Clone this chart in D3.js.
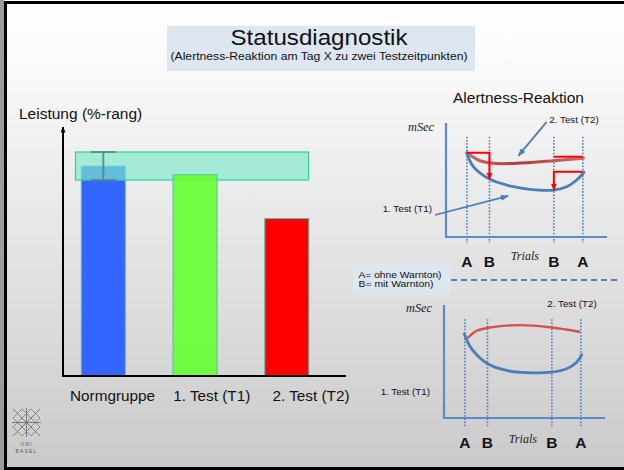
<!DOCTYPE html>
<html>
<head>
<meta charset="utf-8">
<script src="https://cdn.jsdelivr.net/npm/d3@7"></script>
<style>
  html, body { margin: 0; padding: 0; background: #fff; }
  svg { display: block; }
</style>
</head>
<body>
<svg id="slide" width="624" height="470"></svg>
<script>
// ---- Leistung (Prozentrang) je Gruppe ----
const categories = ["Normgruppe", "1. Test (T1)", "2. Test (T2)"];
const leistung = [84, 80.5, 63];
const normStreuung = 5.6;            // ± Bereich der Normgruppe

// ---- Alertness-Reaktion: Messzeitpunkte auf der Trial-Achse ----
const trialMarks = [13, 27, 67, 85];
const trialLabels = ["A", "B", "B", "A"];
const legendLines = ["A= ohne Warnton)", "B= mit Warnton)"];

// oberes Diagramm: [Trial, mSec]
const t1Top = [[12.9, 73.9], [17, 61.7], [27.3, 50.6], [41.8, 44.1], [52.2, 41.8],
               [66.6, 41.2], [75, 44.1], [81.2, 50], [85.7, 56.8]];
const t2Top = [[12.9, 73.9], [21.1, 66.9], [29.4, 64.6], [43.9, 64.6], [66.6, 66.9], [85.3, 69]];
// Warnton-Effekt (Abfall von A nach B)
const warnEffectTop = [
  { from: 13, to: 27, level: 73.9, drop: 50.6 },
  { from: 85, to: 67, level: 70.4, drop: null },
  { from: 85, to: 67, level: 57.3, drop: 41.2 }
];

// unteres Diagramm: [Trial, mSec]
const t1Bottom = [[12.6, 74.3], [17.2, 61.1], [27.1, 48], [38.9, 42.1], [51.4, 40.1],
                  [66.9, 40.6], [76.2, 43.6], [82.4, 49.4], [85.5, 55.9]];
const t2Bottom = [[15.1, 71.3], [20.3, 77.2], [28.6, 80.1], [47.2, 82.2], [66.9, 80.1], [84, 76.3]];

// ---- Styles ----
const SANS = "'Liberation Sans', Arial, Helvetica, sans-serif";
const SERIF = "'Liberation Serif', 'Times New Roman', serif";
const barFill = ["#3366ff", "#66ff33", "#ff0000"];
const lineBlue = "#4a7ebb";

const svg = d3.select("#slide");
const defs = svg.append("defs");

// Hintergrund mit leichtem Verlauf
const bg = defs.append("linearGradient").attr("id", "bg")
  .attr("x1", 0).attr("y1", 0).attr("x2", 0).attr("y2", 1);
bg.append("stop").attr("offset", "0%").attr("stop-color", "#ffffff");
bg.append("stop").attr("offset", "10%").attr("stop-color", "#fcfcfc");
bg.append("stop").attr("offset", "100%").attr("stop-color", "#cacaca");
svg.append("rect").attr("width", 624).attr("height", 470).attr("fill", "url(#bg)");

// Verlauf der roten T2-Kurve
const redGrad = defs.append("linearGradient").attr("id", "redLine")
  .attr("x1", 0).attr("y1", 0).attr("x2", 1).attr("y2", 0);
redGrad.append("stop").attr("offset", "0%").attr("stop-color", "#cf6664");
redGrad.append("stop").attr("offset", "45%").attr("stop-color", "#b03c3a");
redGrad.append("stop").attr("offset", "100%").attr("stop-color", "#d26a68");

// Pfeilspitzen
function marker(id, color, w, h) {
  defs.append("marker").attr("id", id)
    .attr("viewBox", `0 0 ${w} ${h}`)
    .attr("markerUnits", "userSpaceOnUse")
    .attr("markerWidth", w).attr("markerHeight", h)
    .attr("refX", w - 0.5).attr("refY", h / 2)
    .attr("orient", "auto")
    .append("path").attr("d", `M0,0 L${w},${h / 2} L0,${h} Z`).attr("fill", color);
}
marker("arrRed", "#ff0000", 7, 6);
marker("arrBlue", lineBlue, 8, 6);
marker("arrBlack", "#000", 6, 5);

// Rahmen
svg.append("rect").attr("x", 0).attr("y", 0).attr("width", 4).attr("height", 470).attr("fill", "#9c9c9c");
svg.append("path").attr("d", "M5.5,470 V2.5 H624")
  .attr("fill", "none").attr("stroke", "#000").attr("stroke-width", 3);
svg.append("line").attr("x1", 4).attr("x2", 624).attr("y1", 468.5).attr("y2", 468.5)
  .attr("stroke", "#000").attr("stroke-width", 3);

// ---- Titel ----
svg.append("rect").attr("x", 167).attr("y", 26).attr("width", 308).attr("height", 45).attr("fill", "#dde6f1");
svg.append("text").attr("x", 319).attr("y", 44.5).attr("text-anchor", "middle")
  .attr("font-family", SANS).attr("font-size", 21.5).attr("fill", "#111")
  .attr("textLength", 177).attr("lengthAdjust", "spacingAndGlyphs")
  .text("Statusdiagnostik");
svg.append("text").attr("x", 319).attr("y", 59.5).attr("text-anchor", "middle")
  .attr("font-family", SANS).attr("font-size", 11).attr("fill", "#111")
  .attr("textLength", 297).attr("lengthAdjust", "spacingAndGlyphs")
  .text("(Alertness-Reaktion am Tag X zu zwei Testzeitpunkten)");

// ---- Balkendiagramm ----
const yL = d3.scaleLinear().domain([0, 100]).range([376, 126]);
const xBar = d3.scalePoint().domain(categories).range([103.3, 286.8]);
const xLab = d3.scalePoint().domain(categories).range([112.5, 311]);
const barW = 44;

const left = svg.append("g");
function bar(i, opacity) {
  left.append("rect")
    .attr("x", xBar(categories[i]) - barW / 2)
    .attr("y", yL(leistung[i]))
    .attr("width", barW)
    .attr("height", yL(0) - yL(leistung[i]))
    .attr("fill", barFill[i]).attr("fill-opacity", opacity)
    .attr("stroke", "#3cc9a6").attr("stroke-width", 1);
}
bar(0, 1);
// Normbereich (halbtransparentes Band)
left.append("rect")
  .attr("x", 75.5).attr("width", 233)
  .attr("y", yL(leistung[0] + normStreuung))
  .attr("height", yL(leistung[0] - normStreuung) - yL(leistung[0] + normStreuung))
  .attr("fill", "#7ee9cb").attr("fill-opacity", 0.66)
  .attr("stroke", "#2fd0a0").attr("stroke-width", 1.2);
// Streuung der Normgruppe
const ex = xBar(categories[0]);
const eb = left.append("g").attr("stroke", "#4f8a7c").attr("stroke-width", 2).attr("stroke-opacity", 0.85);
eb.append("line").attr("x1", ex).attr("x2", ex)
  .attr("y1", yL(leistung[0] + normStreuung)).attr("y2", yL(leistung[0] - normStreuung));
[leistung[0] + normStreuung, leistung[0] - normStreuung].forEach(v => {
  eb.append("line").attr("x1", ex - 12.5).attr("x2", ex + 12.5).attr("y1", yL(v)).attr("y2", yL(v));
});
bar(1, 0.9);
bar(2, 1);

// Achsen
left.append("line").attr("x1", 63).attr("x2", 63).attr("y1", yL(0) + 1).attr("y2", yL(100) + 1)
  .attr("stroke", "#000").attr("stroke-width", 2).attr("marker-end", "url(#arrBlack)");
left.append("line").attr("x1", 62).attr("x2", 346).attr("y1", yL(0)).attr("y2", yL(0))
  .attr("stroke", "#000").attr("stroke-width", 2);
left.append("text").attr("x", 19).attr("y", 118.5)
  .attr("font-family", SANS).attr("font-size", 15.5).attr("fill", "#111").text("Leistung (%-rang)");
left.selectAll("text.cat").data(categories).join("text").attr("class", "cat")
  .attr("x", d => xLab(d)).attr("y", 401).attr("text-anchor", "middle")
  .attr("font-family", SANS).attr("font-size", 15.3).attr("fill", "#111").text(d => d);

// ---- Alertness-Reaktion ----
svg.append("text").attr("x", 518.5).attr("y", 103.3).attr("text-anchor", "middle")
  .attr("font-family", SANS).attr("font-size", 15.5).attr("fill", "#111").text("Alertness-Reaktion");

function panel(spec, t1, t2, warn, arrows, redStroke, redWidth) {
  const g = svg.append("g");
  const x = d3.scaleLinear().domain([0, 100]).range([spec.left, spec.right]);
  const y = d3.scaleLinear().domain([0, 100]).range([spec.bottom, spec.top]);

  // gepunktete Markierungen A / B
  g.selectAll("line.mark").data(trialMarks).join("line").attr("class", "mark")
    .attr("x1", d => x(d)).attr("x2", d => x(d))
    .attr("y1", y(spec.markTop)).attr("y2", spec.bottom + spec.markBelow)
    .attr("stroke", "#4f81bd").attr("stroke-width", 1.6).attr("stroke-dasharray", "1.6,1.6");

  // Achsen
  g.append("line").attr("x1", x(0)).attr("x2", x(0)).attr("y1", spec.bottom + 1).attr("y2", y(100))
    .attr("stroke", "#5b8cc8").attr("stroke-width", 2.2);
  g.append("line").attr("x1", x(0)).attr("x2", x(100)).attr("y1", spec.bottom).attr("y2", spec.bottom)
    .attr("stroke", "#5b8cc8").attr("stroke-width", 2.2);

  // Kurven
  const line = d3.line().x(d => x(d[0])).y(d => y(d[1])).curve(d3.curveCatmullRom.alpha(0.5));
  g.append("path").attr("d", line(t2)).attr("fill", "none")
    .attr("stroke", redStroke).attr("stroke-width", redWidth).attr("stroke-linecap", "round");
  g.append("path").attr("d", line(t1)).attr("fill", "none")
    .attr("stroke", lineBlue).attr("stroke-width", 2.8).attr("stroke-linecap", "round");

  // Warnton-Effekt
  warn.forEach(w => {
    let d = `M${x(w.from)},${y(w.level)} H${x(w.to)}`;
    if (w.drop !== null) d += ` V${y(w.drop)}`;
    const p = g.append("path").attr("d", d).attr("fill", "none")
      .attr("stroke", "#ff0000").attr("stroke-width", 2);
    if (w.drop !== null) p.attr("marker-end", "url(#arrRed)");
  });

  // Hinweispfeile
  arrows.forEach(a => {
    g.append("line").attr("x1", x(a[0][0])).attr("y1", y(a[0][1]))
      .attr("x2", x(a[1][0])).attr("y2", y(a[1][1]))
      .attr("stroke", lineBlue).attr("stroke-width", 1.8).attr("marker-end", "url(#arrBlue)");
  });

  // Beschriftung
  g.selectAll("text.ab").data(trialMarks).join("text").attr("class", "ab")
    .attr("x", d => x(d)).attr("y", spec.bottom + 30).attr("text-anchor", "middle")
    .attr("font-family", SANS).attr("font-weight", "bold").attr("font-size", 15.5).attr("fill", "#111")
    .text((d, i) => trialLabels[i]);
  g.append("text").attr("x", x(49)).attr("y", spec.bottom + spec.trialsDy).attr("text-anchor", "middle")
    .attr("font-family", SERIF).attr("font-style", "italic").attr("font-size", 12).attr("fill", "#222")
    .text("Trials");
  g.append("text").attr("x", spec.left - 38).attr("y", spec.top + spec.msecDy)
    .attr("font-family", SERIF).attr("font-style", "italic").attr("font-size", 12.3).attr("fill", "#222")
    .text("mSec");
  g.append("text").attr("x", spec.left + 103.3).attr("y", spec.top + spec.t2Dy)
    .attr("font-family", SANS).attr("font-size", 9.8).attr("fill", "#111").text("2. Test (T2)");
  g.append("text").attr("x", spec.left - 14).attr("y", spec.bottom - spec.t1Up).attr("text-anchor", "end")
    .attr("font-family", SANS).attr("font-size", 9.8).attr("fill", "#111").text("1. Test (T1)");
}

panel({ left: 446, right: 607, bottom: 237, top: 123, markTop: 88, markBelow: 6,
        trialsDy: 23, msecDy: 7.7, t2Dy: 0.3, t1Up: 25.3 },
      t1Top, t2Top, warnEffectTop,
      [[[62.5, 101], [44.9, 71.1]], [[-6.8, 19.3], [38.7, 36]]],
      "url(#redLine)", 3);

panel({ left: 444, right: 605, bottom: 418, top: 305, markTop: 87.5, markBelow: 10,
        trialsDy: 24.7, msecDy: 6.7, t2Dy: 1.7, t1Up: 23 },
      t1Bottom, t2Bottom, [], [],
      "#d4504e", 2.4);

// Legende A / B und Trennlinie
svg.append("rect").attr("x", 353).attr("y", 264).attr("width", 97).attr("height", 31).attr("fill", "#dde6f1");
const legendWidths = [83, 75];
svg.selectAll("text.leg").data(legendLines).join("text").attr("class", "leg")
  .attr("x", 358.5).attr("y", (d, i) => 278.3 + i * 9)
  .attr("font-family", SANS).attr("font-size", 8.6).attr("fill", "#111")
  .attr("textLength", (d, i) => legendWidths[i]).attr("lengthAdjust", "spacingAndGlyphs")
  .text(d => d);
svg.append("line").attr("x1", 451).attr("x2", 620).attr("y1", 280).attr("y2", 280)
  .attr("stroke", "#4f81bd").attr("stroke-width", 2).attr("stroke-dasharray", "6,4");

// Logo Universität Basel
const logo = svg.append("g").attr("stroke", "#7a7a7a").attr("stroke-width", 0.8).attr("fill", "none");
const lx = 13, ly = 409, cell = 9;
for (let r = 0; r < 3; r++) {
  for (let c = 0; c < 3; c++) {
    const x0 = lx + c * cell, y0 = ly + r * cell;
    logo.append("path").attr("d", `M${x0},${y0} L${x0 + cell},${y0 + cell} M${x0 + cell},${y0} L${x0},${y0 + cell}`);
  }
}
logo.append("path").attr("d", `M${lx + 13.5},${ly - 1} V${ly + 28} M${lx - 1},${ly + 13.5} H${lx + 28}`)
  .attr("stroke-width", 1);
logo.append("path").attr("d", `M${lx},${ly} L${lx + 27},${ly + 27} M${lx + 27},${ly} L${lx},${ly + 27}`)
  .attr("stroke-width", 1);
svg.append("text").attr("x", 26.5).attr("y", 446).attr("text-anchor", "middle")
  .attr("font-family", SANS).attr("font-size", 5).attr("letter-spacing", 1.2).attr("fill", "#555").text("UNI");
svg.append("text").attr("x", 26.5).attr("y", 453).attr("text-anchor", "middle")
  .attr("font-family", SANS).attr("font-size", 5).attr("letter-spacing", 1.2).attr("fill", "#555").text("BASEL");
</script>
</body>
</html>
